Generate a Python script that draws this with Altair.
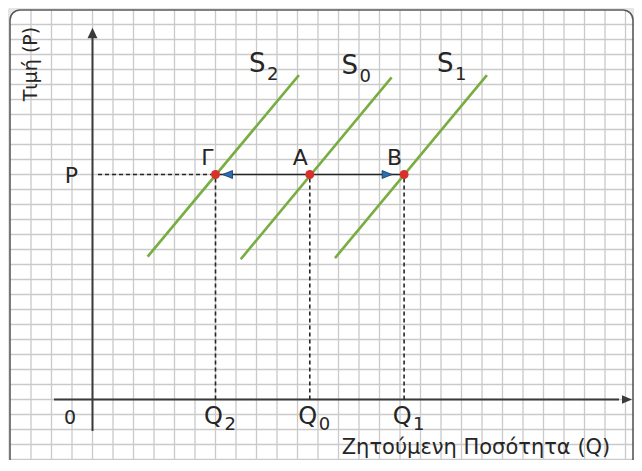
import altair as alt
import pandas as pd

# ---------------- data ----------------
# units: one grid column along Q, one grid row along P, origin where the axes cross
price_level = [15.0]
q_letters = ["Q", "Q", "Q"]
q_subs = ["2", "0", "1"]
q_values = [6.0, 10.6, 15.2]
point_names = ["Γ", "A", "B"]

supply_letters = ["S", "S", "S"]
supply_subs = ["2", "0", "1"]
supply_q_start = [2.69, 7.23, 11.83]
supply_p_start = [9.52, 9.35, 9.43]
supply_q_end = [10.07, 14.59, 19.24]
supply_p_end = [21.63, 21.48, 21.63]

x_title = "Ζητούμενη Ποσότητα (Q)"
y_title = "Τιμή (P)"
origin_label = "0"
price_label = "P"

# ---------------- layout ----------------
W, H = 626, 452
GX, GY = 20.5, 15.0            # grid cell size in px
OX, OY = 84.5, 391.5           # axes crossing, in plot px
XMIN = -OX / GX
XMAX = XMIN + W / GX
YMAX = OY / GY
YMIN = YMAX - H / GY


def ux(px):
    return (px - OX) / GX


FONT = "DejaVu Sans"
INK = "#262626"
AXIS = "#3a3a3a"
GREEN = "#78ad42"
RED = "#d8302a"
BLUE = "#2a6db3"
GRID = "#cacaca"

xs = alt.Scale(domain=[XMIN, XMAX], nice=False, zero=False)
ys = alt.Scale(domain=[YMIN, YMAX], nice=False, zero=False)


def X(f):
    return alt.X(f, type="quantitative", scale=xs, axis=None)


def Y(f):
    return alt.Y(f, type="quantitative", scale=ys, axis=None)


one = pd.DataFrame({"x": [0.0], "y": [0.0]})

# decoration: shadow, grid, frame
shadow = alt.Chart(one).mark_rect(
    cornerRadius=11, fillOpacity=0, stroke="#000", strokeOpacity=0.10, strokeWidth=5
).encode(x=alt.value(-1), x2=alt.value(W + 2), y=alt.value(-1), y2=alt.value(H + 30))

grid_v = alt.Chart(pd.DataFrame({"x": list(range(-3, 27))})).mark_rule(
    color=GRID, strokeWidth=1.3
).encode(x=X("x"), y=alt.value(2), y2=alt.value(H + 5))

grid_h = alt.Chart(pd.DataFrame({"y": list(range(-5, 26))})).mark_rule(
    color=GRID, strokeWidth=1.3
).encode(y=Y("y"), x=alt.value(2), x2=alt.value(W))

frame = alt.Chart(one).mark_rect(
    cornerRadius=10, fillOpacity=0, stroke="#5a5a5a", strokeWidth=1.6
).encode(x=alt.value(2), x2=alt.value(W - 1), y=alt.value(2), y2=alt.value(H + 30))

# axes with arrowheads
axis_v = alt.Chart(one).mark_rule(color=AXIS, strokeWidth=2).encode(
    x=X("x"), y=alt.value(30), y2=alt.value(423)
)
axis_h = alt.Chart(one).mark_rule(color=AXIS, strokeWidth=2).encode(
    y=Y("y"), x=alt.value(46), x2=alt.value(611)
)
head_up = alt.Chart(one).mark_point(
    shape="M0,-1L0.95,1L-0.95,1Z", filled=True, size=110, color=AXIS, opacity=1
).encode(x=X("x"), y=alt.value(25))
head_right = alt.Chart(one).mark_point(
    shape="M1,0L-1,-0.85L-1,0.85Z", filled=True, size=100, color=AXIS, opacity=1
).encode(y=Y("y"), x=alt.value(619))

# supply curves
sup = pd.DataFrame({
    "q1": supply_q_start, "p1": supply_p_start,
    "q2": supply_q_end, "p2": supply_p_end,
    "letter": supply_letters, "sub": supply_subs,
})
supply = alt.Chart(sup).mark_rule(color=GREEN, strokeWidth=2.6).encode(
    x=X("q1"), y=Y("p1"), x2="q2", y2="p2"
)
s_text = alt.Chart(sup).mark_text(
    font=FONT, fontSize=26, color=INK, align="left", baseline="alphabetic", dx=-50, dy=-3
).encode(x=X("q2"), y=Y("p2"), text="letter")
s_sub = alt.Chart(sup).mark_text(
    font=FONT, fontSize=18, color=INK, align="left", baseline="alphabetic", dx=-32, dy=5
).encode(x=X("q2"), y=Y("p2"), text="sub")

# equilibrium points
pts = pd.DataFrame({
    "q": q_values, "p": price_level * 3, "zero": [0.0] * 3,
    "name": point_names, "letter": q_letters, "sub": q_subs,
})
dash_v = alt.Chart(pts).mark_rule(color=INK, strokeWidth=1.6, strokeDash=[4, 3]).encode(
    x=X("q"), y=Y("zero"), y2="p"
)
dash_h = alt.Chart(pd.DataFrame({"x": [ux(90)], "x2": [q_values[0]], "y": price_level})).mark_rule(
    color=INK, strokeWidth=1.3, strokeDash=[4, 3]
).encode(x=X("x"), x2="x2", y=Y("y"))

shift = pd.DataFrame({"x": [q_values[0]], "x2": [q_values[2]], "y": price_level})
shift_line = alt.Chart(shift).mark_rule(color=INK, strokeWidth=1.6).encode(
    x=X("x"), x2="x2", y=Y("y")
)
heads = pd.DataFrame({
    "x": [q_values[0] + 12 / GX, q_values[2] - 17 / GX],
    "y": price_level * 2,
    "dir": ["l", "r"],
})
head_l = alt.Chart(heads[heads.dir == "l"]).mark_point(
    shape="M-1,0L1,-0.8L1,0.8Z", filled=True, size=100, fill=BLUE, stroke="#173a5e",
    strokeWidth=0.8, opacity=1
).encode(x=X("x"), y=Y("y"))
head_r = alt.Chart(heads[heads.dir == "r"]).mark_point(
    shape="M1,0L-1,-0.8L-1,0.8Z", filled=True, size=100, fill=BLUE, stroke="#173a5e",
    strokeWidth=0.8, opacity=1
).encode(x=X("x"), y=Y("y"))

dots = alt.Chart(pts).mark_circle(size=80, color=RED, opacity=1).encode(x=X("q"), y=Y("p"))
names = alt.Chart(pts).mark_text(
    font=FONT, fontSize=22, color=INK, align="right", baseline="alphabetic", dx=-2, dy=-10
).encode(x=X("q"), y=Y("p"), text="name")
q_text = alt.Chart(pts).mark_text(
    font=FONT, fontSize=24, color=INK, align="center", baseline="alphabetic", dx=-2, dy=24.5
).encode(x=X("q"), y=Y("zero"), text="letter")
q_sub = alt.Chart(pts).mark_text(
    font=FONT, fontSize=18, color=INK, align="left", baseline="alphabetic", dx=9, dy=30
).encode(x=X("q"), y=Y("zero"), text="sub")

p_text = alt.Chart(pd.DataFrame({"x": [0.0], "y": price_level, "t": [price_label]})).mark_text(
    font=FONT, fontSize=22, color=INK, align="center", baseline="alphabetic", dx=-21, dy=8
).encode(x=X("x"), y=Y("y"), text="t")
o_text = alt.Chart(pd.DataFrame({"x": [0.0], "y": [0.0], "t": [origin_label]})).mark_text(
    font=FONT, fontSize=19, color=INK, align="center", baseline="alphabetic", dx=-22.5, dy=24.5
).encode(x=X("x"), y=Y("y"), text="t")

xt = alt.Chart(pd.DataFrame({"t": [x_title]})).mark_text(
    font=FONT, fontSize=21, color=INK, align="center", baseline="alphabetic"
).encode(x=alt.value(468), y=alt.value(446), text="t")
yt = alt.Chart(pd.DataFrame({"t": [y_title]})).mark_text(
    font=FONT, fontSize=19, color=INK, align="center", baseline="middle", angle=270
).encode(x=alt.value(23), y=alt.value(56), text="t")

chart = alt.layer(
    shadow, grid_v, grid_h, frame,
    axis_v, axis_h, head_up, head_right,
    dash_v, dash_h, supply, shift_line, head_l, head_r, dots,
    names, q_text, q_sub, s_text, s_sub, p_text, o_text, xt, yt,
).properties(
    width=W, height=H, padding=0,
    autosize=alt.AutoSizeParams(type="none"),
    background="white",
).configure_view(stroke=None)

chart.save("out.html", embed_options={"renderer": "svg", "actions": False})
